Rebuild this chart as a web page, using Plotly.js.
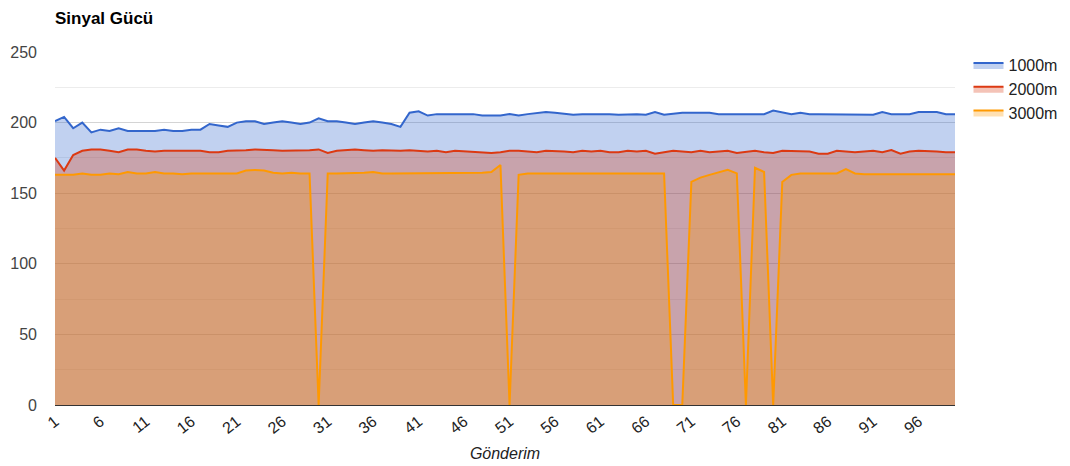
<!DOCTYPE html>
<html>
<head>
<meta charset="utf-8">
<script src="https://cdn.plot.ly/plotly-3.0.1.min.js"></script>
<style>
html,body{margin:0;padding:0;background:#fff;}
#chart{width:1070px;height:466px;}
</style>
</head>
<body>
<div id="chart"></div>
<script>
const gonderim = [1,2,3,4,5,6,7,8,9,10,11,12,13,14,15,16,17,18,19,20,
  21,22,23,24,25,26,27,28,29,30,31,32,33,34,35,36,37,38,39,40,
  41,42,43,44,45,46,47,48,49,50,51,52,53,54,55,56,57,58,59,60,
  61,62,63,64,65,66,67,68,69,70,71,72,73,74,75,76,77,78,79,80,
  81,82,83,84,85,86,87,88,89,90,91,92,93,94,95,96,97,98,99,100];

const s1000m = [201,204,196,200,193,195,194,196,194,194,
  194,194,195,194,194,195,195,199,198,197,
  200,201,201,199,200,201,200,199,200,203,
  201,201,200,199,200,201,200,199,197,207,
  208,205,206,206,206,206,206,205,205,205,
  206,205,206,207,207.5,207,206,205.5,206,206,
  206.5,206,205.5,206,206,205.5,207.5,205.5,206.5,207,
  207,207,207,206,206,206,206,206,206,208.5,
  207,206,207,206,206,206,205.5,206,206,206,
  205.5,207.5,206,206,206,207.5,207.5,207.5,206,206];

const s2000m = [175,166,177,180,181,181,180,179,181,181,
  180,179.5,180,180,180,180,180,179,179,180,
  180,180.5,181,181,180.5,180,180,180.5,180.5,181,
  178.5,180,180.5,181,180.5,180,180.5,180,180,180.5,
  180,179.5,180,179,180,179.5,179,179,178.5,179,
  180,180,179.5,179,180,180,179.5,179,180,179.5,
  180,179,179,180,179.5,180,178,179,180,179.5,
  179,180,179,179.5,180,178.5,179,180,179,178.5,
  180,180,180,179.5,178,178,180,179.5,179,179.5,
  180,179,180.5,178,179.5,180,180,179.5,179,179];

const s3000m = [163,163,163,164,163,163,164,163.5,165,164,
  164,165,164,164,163.5,164,164,164,164,164,
  164,166,166.5,166,164.5,164,164.5,164,164,0,
  164,164,164,164,164.5,165,164,164,164,164,
  164,164,164,164,164,164,164,164.5,165,170,
  0,163,164,164,164,164,164,164,164,164,
  164,164,164,164,164,164,164,164,0,0,
  158,161,163,165,166.5,164,0,168,165,0,
  158,163,164,164,164,164,164,167,164,163.5,
  163.5,163.5,163.5,163.5,163.5,163.5,163.5,163.5,163.5,163.5];

const xTicks = [1,6,11,16,21,26,31,36,41,46,51,56,61,66,71,76,81,86,91,96];
const yTicks = [0,50,100,150,200,250];
const seriesNames = ['1000m','2000m','3000m'];

const traces = [
  {x: gonderim, y: s1000m, name: seriesNames[0], type:'scatter', mode:'lines',
   line:{color:'#3366cc', width:2}, fill:'tozeroy', fillcolor:'rgba(51,102,204,0.3)'},
  {x: gonderim, y: s2000m, name: seriesNames[1], type:'scatter', mode:'lines',
   line:{color:'#dc3912', width:2}, fill:'tozeroy', fillcolor:'rgba(220,57,18,0.3)'},
  {x: gonderim, y: s3000m, name: seriesNames[2], type:'scatter', mode:'lines',
   line:{color:'#ff9900', width:2}, fill:'tozeroy', fillcolor:'rgba(255,153,0,0.3)'}
];

const layout = {
  width:1070, height:466,
  margin:{l:55, r:115, t:52, b:61, autoexpand:false},
  paper_bgcolor:'#fff', plot_bgcolor:'#fff',
  font:{family:'Liberation Sans, Arial, sans-serif', size:16, color:'#444'},
  title:{text:'<b>Sinyal Gücü</b>', x:55/1070, xref:'container', xanchor:'left',
         y:1-18/466, yref:'container', yanchor:'middle',
         font:{family:'Liberation Sans, Arial, sans-serif', size:17, color:'#000'}},
  xaxis:{range:[1,100], tickmode:'array', tickvals:xTicks, ticktext:xTicks.map(String),
         tickangle:-38, showgrid:false, zeroline:false, showline:true, linecolor:'#333', linewidth:1,
         ticks:'', tickfont:{size:16, color:'#222'},
         title:{text:'<i>Gönderim</i>', font:{size:16, color:'#222'}, standoff:11}},
  yaxis:{range:[0,250], tickmode:'array', tickvals:yTicks, showgrid:true, gridcolor:'#d4d4d4',
         zeroline:false, ticks:'', ticklabelstandoff:17, tickfont:{size:16, color:'#444'},
         minor:{tickmode:'linear', tick0:0, dtick:25, showgrid:true, gridcolor:'#ececec'}},
  showlegend:true,
  legend:{x:1.015, xanchor:'left', y:1.011, yanchor:'top', font:{size:16, color:'#222'},
          bgcolor:'rgba(0,0,0,0)', itemwidth:30, traceorder:'normal'}
};

Plotly.newPlot('chart', traces, layout, {displayModeBar:false, staticPlot:true});
</script>
</body>
</html>
